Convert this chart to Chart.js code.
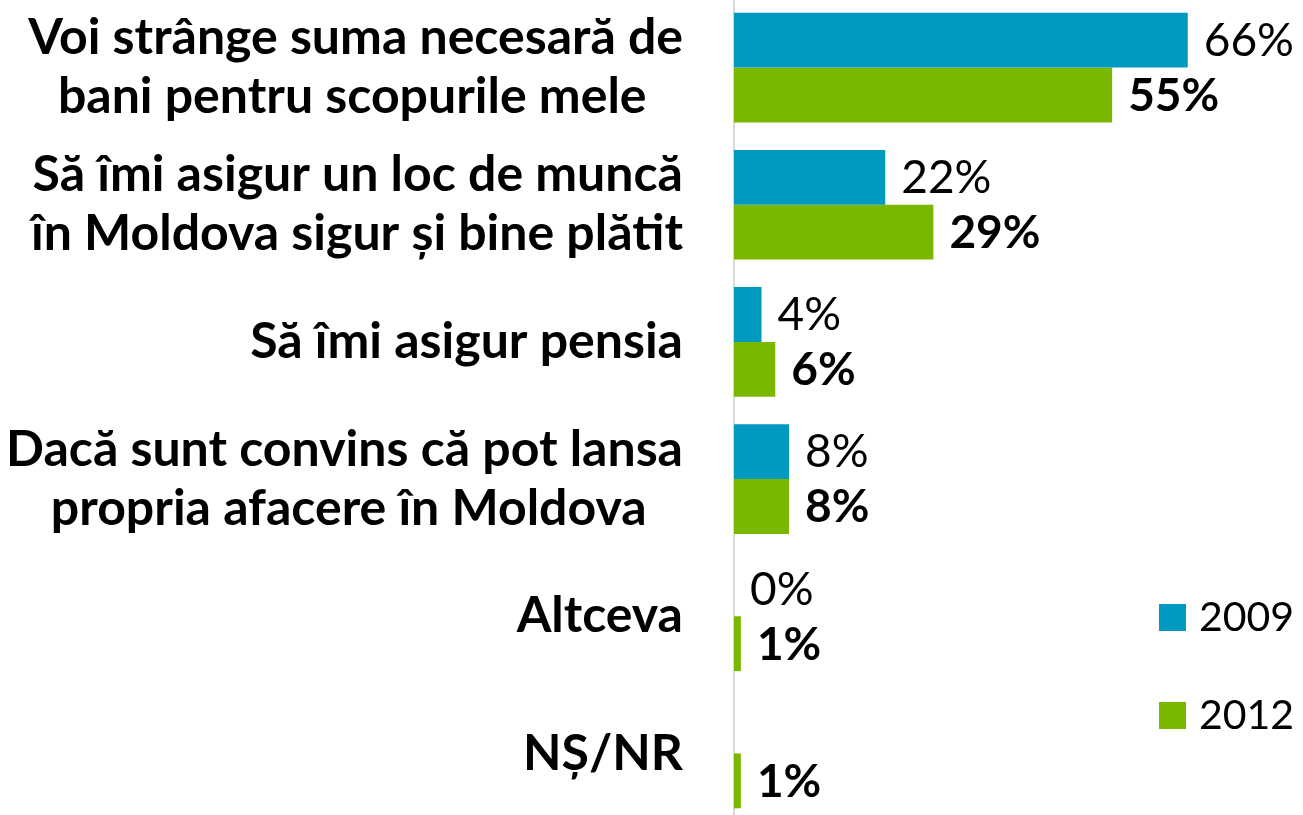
<!DOCTYPE html>
<html>
<head>
<meta charset="utf-8">
<script src="https://cdn.jsdelivr.net/npm/chart.js@4"></script>
<style>
html,body{margin:0;padding:0;background:#fff;overflow:hidden;width:1303px;height:815px;}
#wrap{position:absolute;left:0;top:-1px;width:1303px;height:823px;}
</style>
</head>
<body>
<div id="wrap"><canvas id="c"></canvas></div>
<script>
const categories = [
  ['Voi strânge suma necesară de', 'bani pentru scopurile mele   '],
  ['Să îmi asigur un loc de muncă', 'în Moldova sigur și bine plătit'],
  ['Să îmi asigur pensia'],
  ['Dacă sunt convins că pot lansa', 'propria afacere în Moldova   '],
  ['Altceva'],
  ['NȘ/NR']
];
const seriesNames = ['2009', '2012'];
const values2009 = [66, 22, 4, 8, 0, null];
const values2012 = [55, 29, 6, 8, 1, 1];
const seriesColors = ['#009AC1', '#7AB800'];

const FONT = 'Lato';

const valueLabels = {
  id: 'valueLabels',
  afterDatasetsDraw(chart) {
    const ctx = chart.ctx;
    ctx.save();
    ctx.fillStyle = '#000';
    ctx.textBaseline = 'middle';
    ctx.textAlign = 'left';
    chart.data.datasets.forEach((ds, di) => {
      const meta = chart.getDatasetMeta(di);
      ctx.font = (di === 1 ? 'bold ' : '') + '46px ' + FONT;
      meta.data.forEach((bar, i) => {
        const v = ds.data[i];
        if (v === null || v === undefined) return;
        ctx.fillText(v + '%', bar.x + 16, bar.y + 1);
      });
    });
    ctx.restore();
  }
};

const customLegend = {
  id: 'customLegend',
  afterDraw(chart) {
    const ctx = chart.ctx;
    ctx.save();
    const items = [{y: 605}, {y: 703}];
    chart.data.datasets.forEach((ds, di) => {
      const y = items[di].y;
      ctx.fillStyle = ds.backgroundColor;
      ctx.fillRect(1159, y, 27, 27);
      ctx.fillStyle = '#000';
      ctx.font = '41px ' + FONT;
      ctx.textBaseline = 'middle';
      ctx.textAlign = 'left';
      ctx.fillText(ds.label, 1199, y + 14);
    });
    ctx.restore();
  }
};

new Chart(document.getElementById('c'), {
  type: 'bar',
  data: {
    labels: categories,
    datasets: [
      {label: seriesNames[0], data: values2009, backgroundColor: seriesColors[0]},
      {label: seriesNames[1], data: values2012, backgroundColor: seriesColors[1]}
    ]
  },
  options: {
    indexAxis: 'y',
    responsive: true,
    maintainAspectRatio: false,
    animation: false,
    events: [],
    categoryPercentage: 0.8,
    barPercentage: 1.0,
    layout: {padding: {left: 0, right: 19, top: 0, bottom: 0}},
    plugins: {legend: {display: false}, tooltip: {enabled: false}, title: {display: false}},
    scales: {
      x: {display: false, min: 0, max: 80},
      y: {
        afterFit(scale) {
          scale.width = 734;
          scale.paddingTop = 0; scale.paddingBottom = 0;
          scale.paddingLeft = 0; scale.paddingRight = 0;
        },
        grid: {display: false, drawTicks: false, tickLength: 0},
        border: {display: true, color: '#D9D9D9', width: 2},
        ticks: {
          padding: 51,
          color: '#000',
          font: {family: FONT, size: 50, weight: 'bold', lineHeight: 1.18}
        }
      }
    }
  },
  plugins: [valueLabels, customLegend]
});
</script>
</body>
</html>
